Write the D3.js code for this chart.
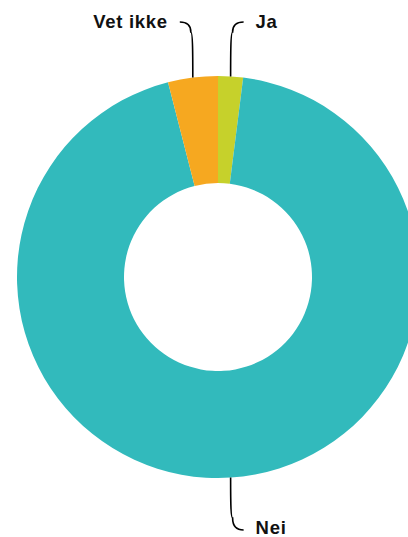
<!DOCTYPE html>
<html><head><meta charset="utf-8">
<script src="https://cdn.jsdelivr.net/npm/d3@7"></script>
<style>html,body{margin:0;padding:0;background:#fff;}svg{display:block;}</style>
</head><body>
<svg id="c" width="408" height="537"></svg>
<script>
const categories = ["Ja", "Nei", "Vet ikke"];
const values = [2, 94, 4];
const colors = ["#C6D12B", "#32BABC", "#F6A820"];

const svg = d3.select("#c");
const cx = 218, cy = 277, R = 201, r = 94;
const g = svg.append("g").attr("transform", `translate(${cx},${cy})`);
const pie = d3.pie().sort(null).value(d => d.v);
const data = pie(categories.map((c, i) => ({c, v: values[i], col: colors[i]})));
const arc = d3.arc().innerRadius(r).outerRadius(R);
g.selectAll("path.s").data(data).join("path").attr("class", "s")
  .attr("d", arc).attr("fill", d => d.data.col);

// label configs: direction (up/down), side (left/right), line length
const labelCfg = {
  "Ja": {dir: -1, side: 1, len: 54, bend: 44, tdy: 6},
  "Vet ikke": {dir: -1, side: -1, len: 54, bend: 44, tdy: 6},
  "Nei": {dir: 1, side: 1, len: 52, bend: 40, tdy: 4}
};
data.forEach(d => {
  const cfg = labelCfg[d.data.c];
  const a = (d.startAngle + d.endAngle) / 2;
  const x0 = Math.sin(a) * R, y0 = -Math.cos(a) * R;
  const yEnd = cfg.dir * (R + cfg.len);
  const bend = cfg.dir * (R + cfg.bend);
  const x1 = x0 + cfg.side * 2;
  const xe = x1 + cfg.side * 11;
  const path = `M${x0},${y0} C${x0},${y0 + cfg.dir * 20} ${x1 - cfg.side * 2},${bend} ${x1},${bend} ` +
    `Q${x1},${yEnd} ${xe},${yEnd}`;
  g.append("path").attr("d", path).attr("fill", "none").attr("stroke", "#000").attr("stroke-width", 1.6);
  g.append("text").attr("x", xe + cfg.side * 12).attr("y", yEnd + cfg.tdy)
    .attr("text-anchor", cfg.side > 0 ? "start" : "end")
    .attr("font-family", "Liberation Sans, Arial, sans-serif").attr("font-weight", "bold")
    .attr("font-size", 18.5).attr("letter-spacing", 0.7).attr("fill", "#111").text(d.data.c);
});
</script>
</body></html>
